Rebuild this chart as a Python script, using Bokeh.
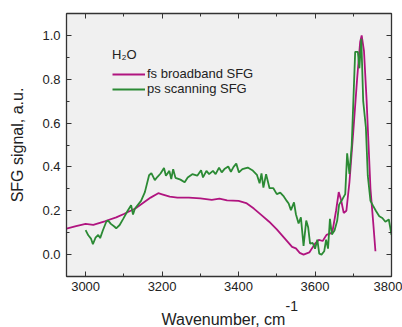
from bokeh.plotting import figure
from bokeh.models import (LinearAxis, FixedTicker, PrintfTickFormatter, Legend, LegendItem, Range1d, Title)
from bokeh.embed import file_html
from bokeh.resources import INLINE

fs_x = [2950, 2975, 3000, 3020, 3050, 3080, 3100, 3130, 3150, 3170, 3190, 3200, 3220, 3240, 3270,
        3300, 3330, 3350, 3370, 3400, 3420, 3440, 3460, 3480, 3500, 3520, 3540, 3550, 3560, 3570,
        3585, 3600, 3610, 3620, 3630, 3645, 3655, 3662, 3668, 3675, 3682, 3690, 3700, 3710, 3718,
        3722, 3728, 3735, 3740, 3745, 3752, 3758]
fs_y = [0.119, 0.13, 0.14, 0.136, 0.152, 0.17, 0.185, 0.21, 0.235, 0.26, 0.28, 0.275, 0.264, 0.26, 0.26,
        0.256, 0.25, 0.255, 0.247, 0.245, 0.235, 0.21, 0.18, 0.15, 0.115, 0.075, 0.035, 0.028, 0.008, 0.0,
        0.01, 0.05, 0.067, 0.062, 0.09, 0.10, 0.2, 0.285, 0.25, 0.19, 0.2, 0.33, 0.56, 0.8, 0.97,
        1.0, 0.93, 0.7, 0.5, 0.3, 0.15, 0.015]

ps_x = [3000, 3007, 3014, 3019, 3026, 3033, 3038, 3045, 3054, 3059, 3066, 3075, 3080, 3089, 3099,
        3110, 3119, 3124, 3129, 3145, 3155, 3166, 3172, 3181, 3188, 3196, 3205, 3210, 3219, 3224,
        3229, 3235, 3248, 3259, 3267, 3279, 3292, 3302, 3307, 3316, 3323, 3333, 3340, 3349, 3356,
        3363, 3373, 3380, 3387, 3394, 3401, 3410, 3424, 3436, 3448, 3455, 3460, 3465, 3472, 3481,
        3491, 3500, 3509, 3517, 3526, 3531, 3537, 3545, 3550, 3557, 3563, 3570, 3577, 3582, 3587,
        3594, 3600, 3606, 3611, 3617, 3624, 3629, 3634, 3639, 3644, 3651, 3658, 3663, 3672, 3679,
        3684, 3690, 3696, 3705, 3712, 3716, 3721, 3726, 3733, 3738, 3745, 3752, 3759, 3768, 3776,
        3784, 3793, 3800]
ps_y = [0.112, 0.088, 0.073, 0.047, 0.077, 0.09, 0.075, 0.11, 0.15, 0.155, 0.14, 0.128, 0.12, 0.135, 0.165,
        0.2, 0.225, 0.183, 0.21, 0.245, 0.285, 0.362, 0.372, 0.34, 0.355, 0.37, 0.395, 0.36, 0.382, 0.345,
        0.39, 0.35, 0.342, 0.33, 0.352, 0.367, 0.36, 0.385, 0.352, 0.382, 0.367, 0.382, 0.367, 0.397, 0.375,
        0.39, 0.402, 0.378, 0.4, 0.415, 0.375, 0.39, 0.397, 0.385, 0.364, 0.325, 0.37, 0.306, 0.367, 0.303,
        0.303, 0.276, 0.283, 0.268, 0.245, 0.233, 0.203, 0.238, 0.184, 0.142, 0.17, 0.04, 0.155, 0.125, 0.05,
        0.053, 0.027, 0.068, 0.004, 0.0, 0.015, 0.068, 0.027, 0.163, 0.092, 0.11, 0.155, 0.228, 0.254, 0.276,
        0.462, 0.368, 0.5, 0.925, 0.925, 0.85, 0.985, 0.7, 0.58, 0.36, 0.245, 0.222, 0.2, 0.175, 0.167,
        0.15, 0.16, 0.09]

x_ticks = [3000, 3200, 3400, 3600, 3800]
x_minor = [2900, 3100, 3300, 3500, 3700]
y_ticks = [0.0, 0.2, 0.4, 0.6, 0.8, 1.0]
y_minor = [-0.1, 0.1, 0.3, 0.5, 0.7, 0.9]

x_title = "Wavenumber, cm"
x_title_sup = "-1"
y_title = "SFG signal, a.u."

MAGENTA = "#B0147F"
GREEN = "#2B8A34"
FONT = "Liberation Sans"
AX = "#333333"
TXT = "#222222"

p = figure(width=402, height=327, output_backend="svg", toolbar_location=None,
           x_range=Range1d(2950, 3800), y_range=Range1d(-0.1, 1.1),
           min_border_left=66, min_border_right=11, min_border_top=13, min_border_bottom=51,
           background_fill_color="#f0f0f0", border_fill_color="white")
p.grid.visible = False
p.outline_line_color = AX
p.outline_line_width = 1

r_fs = p.line(fs_x, fs_y, line_color=MAGENTA, line_width=1.8)
r_ps = p.line(ps_x, ps_y, line_color=GREEN, line_width=1.8)

def style(ax, labels=True):
    ax.axis_line_color = AX
    ax.axis_line_width = 1.3
    ax.major_tick_line_color = AX
    ax.minor_tick_line_color = AX
    ax.major_tick_in = 5
    ax.major_tick_out = 0
    ax.minor_tick_in = 3
    ax.minor_tick_out = 0
    ax.major_label_text_font = FONT
    ax.major_label_text_font_size = "13px"
    ax.major_label_text_color = TXT
    ax.axis_label_text_font = FONT
    ax.axis_label_text_font_size = "16px"
    ax.axis_label_text_font_style = "normal"
    ax.axis_label_text_color = TXT
    if not labels:
        ax.major_label_text_color = None
        ax.major_label_standoff = 0

p.xaxis.ticker = FixedTicker(ticks=x_ticks, minor_ticks=x_minor)
p.yaxis.ticker = FixedTicker(ticks=y_ticks, minor_ticks=y_minor)
p.yaxis.formatter = PrintfTickFormatter(format="%.1f")
style(p.xaxis[0])
style(p.yaxis[0])
p.xaxis.major_label_standoff = 5
p.yaxis.major_label_standoff = 6
p.yaxis.axis_label = y_title
p.yaxis.axis_label_standoff = 13

top = LinearAxis(ticker=FixedTicker(ticks=x_ticks, minor_ticks=x_minor))
style(top, labels=False)
right = LinearAxis(ticker=FixedTicker(ticks=y_ticks, minor_ticks=y_minor))
style(right, labels=False)
p.add_layout(top, "above")
p.add_layout(right, "right")

# x-axis title with superscript, as two stacked titles below the axis
p.add_layout(Title(text=x_title_sup, align="left", offset=219, standoff=11,
                   text_font=FONT, text_font_size="14px", text_font_style="normal",
                   text_color=TXT), "below")
p.add_layout(Title(text=x_title, align="left", offset=95, standoff=-15,
                   text_font=FONT, text_font_size="16px", text_font_style="normal",
                   text_color=TXT), "below")

legend = Legend(items=[LegendItem(label="fs broadband SFG", renderers=[r_fs]),
                       LegendItem(label="ps scanning SFG", renderers=[r_ps])],
                location=(42, 176), title="H\u2082O",
                background_fill_alpha=0, border_line_alpha=0,
                label_text_font=FONT, label_text_font_size="13px", label_text_color=TXT,
                title_text_font=FONT, title_text_font_size="13px", title_text_font_style="normal",
                title_text_color=TXT, title_standoff=4,
                glyph_width=33, glyph_height=14, label_height=14, spacing=0, padding=4,
                label_standoff=2, margin=0)
p.add_layout(legend)

open("out.html", "w").write(file_html(p, INLINE))
